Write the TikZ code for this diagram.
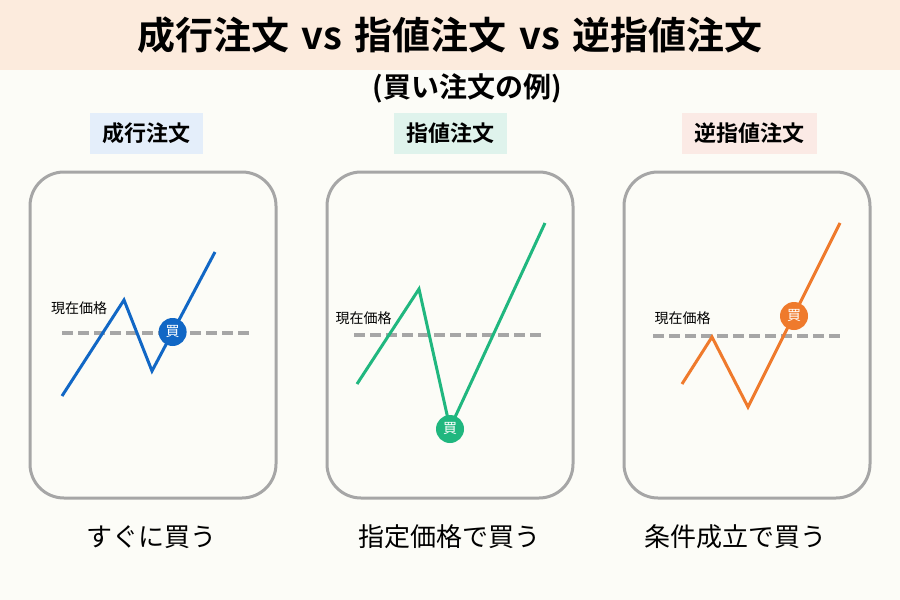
\documentclass[tikz,border=0pt]{standalone}
\usepackage{fontspec}
\usepackage{xcolor}
\usepackage{tikz}
\usetikzlibrary{positioning}
\newfontfamily\jpfont{Noto Sans CJK JP}
\newfontfamily\jpbold{Noto Sans CJK JP Bold}
\definecolor{bgcream}{HTML}{FCFCF7}
\definecolor{titlepeach}{HTML}{FCEBDD}
\definecolor{tagblue}{HTML}{E4EEFA}
\definecolor{taggreen}{HTML}{DFF3EC}
\definecolor{tagpink}{HTML}{FBEAE5}
\definecolor{panelgray}{HTML}{A6A6A6}
\definecolor{lineblue}{HTML}{1167C5}
\definecolor{linegreen}{HTML}{20B77F}
\definecolor{lineorange}{HTML}{EF7A2C}
\tikzstyle{panel}=[draw=panelgray,line width=3pt,rounded corners=34pt]
\tikzstyle{tag}=[inner xsep=12.5pt,inner ysep=0pt,minimum height=41pt,font=\jpbold\fontsize{22}{24}\selectfont]
\tikzstyle{pricedash}=[draw=panelgray,line width=4pt,dash pattern=on 11pt off 5pt]
\tikzstyle{chart}=[line width=3pt,line join=miter]
\tikzstyle{buydot}=[circle,minimum size=28pt,inner sep=0pt,text=white,font=\jpfont\fontsize{14}{14}\selectfont]
\tikzstyle{pricelabel}=[inner sep=0pt,font=\jpfont\fontsize{14}{14}\selectfont]
\tikzstyle{caption}=[inner sep=0pt,font=\jpfont\fontsize{26}{27}\selectfont]

\begin{document}
\begin{tikzpicture}[x=1pt,y=-1pt]

\fill[bgcream] (0,0) rectangle (900,600);
\useasboundingbox (0,0) rectangle (900,600);

% Title
\fill[titlepeach] (0,0) rectangle (900,70);
\node[inner sep=0pt,font=\jpbold\fontsize{38}{40}\selectfont] (title) at (450,35) {成行注文\hspace{4pt} vs\hspace{4pt} 指値注文\hspace{4pt} vs\hspace{4pt} 逆指値注文};
\node[inner sep=0pt,font=\jpbold\fontsize{28}{30}\selectfont] (subtitle) at (467,88) {(買い注文の例)};

% Panels
    \foreach \xl/\name in {30/pA, 327/pB, 624/pC}
        \draw[panel] (\xl,172) rectangle ++(246,326) coordinate (\name);

% Tags
\node[tag,fill=tagblue] (tagA) at (146.5,133.5) {成行注文};
\node[tag,fill=taggreen] (tagB) at (450.5,133.5) {指値注文};
\node[tag,fill=tagpink] (tagC) at (749,133.5) {逆指値注文};

%panel 1
  \coordinate (dashA1) at (62,333);
  \coordinate (dashA2) at (250,333);
  \path[pricedash] (dashA1) -- (dashA2);
  \coordinate (sA) at (62,396);
  \coordinate (hiA) at (124,300);
  \coordinate (loA) at (152,371);
  \coordinate (eA) at (215,252);
  \draw[chart,lineblue] (sA) -- (hiA) -- (loA) -- (eA);
  \node[pricelabel] (priceA) at (79,308) {現在価格};
  \node[buydot,fill=lineblue] (buyA) at (172.6,332) {買};

%panel 2
  \coordinate (dashB1) at (354,335);
  \coordinate (dashB2) at (543,335);
  \path[pricedash] (dashB1) -- (dashB2);
  \coordinate (sB) at (357,384);
  \coordinate (hiB) at (419,289);
  \coordinate (loB) at (450,428);
  \coordinate (eB) at (545,223);
  \draw[chart,linegreen] (sB) -- (hiB) -- (loB) -- (eB);
  \node[pricelabel] (priceB) at (363.5,318) {現在価格};
  \node[buydot,fill=linegreen] (buyB) at (450,429) {買};

%panel 3
  \coordinate (dashC1) at (653,336);
  \coordinate (dashC2) at (841,336);
  \path[pricedash] (dashC1) -- (dashC2);
  \coordinate (sC) at (682,384);
  \coordinate (hiC) at (712,337);
  \coordinate (loC) at (748,407);
  \coordinate (eC) at (840,223);
  \draw[chart,lineorange] (sC) -- (hiC) -- (loC) -- (eC);
  \node[pricelabel] (priceC) at (682.5,318) {現在価格};
  \node[buydot,fill=lineorange] (buyC) at (794,316) {買};

% Captions
\node[caption] (capA) at (151.5,537) {すぐに買う};
\node[caption] (capB) at (449,537) {指定価格で買う};
\node[caption] (capC) at (735,537) {条件成立で買う};

\end{tikzpicture}
\end{document}
